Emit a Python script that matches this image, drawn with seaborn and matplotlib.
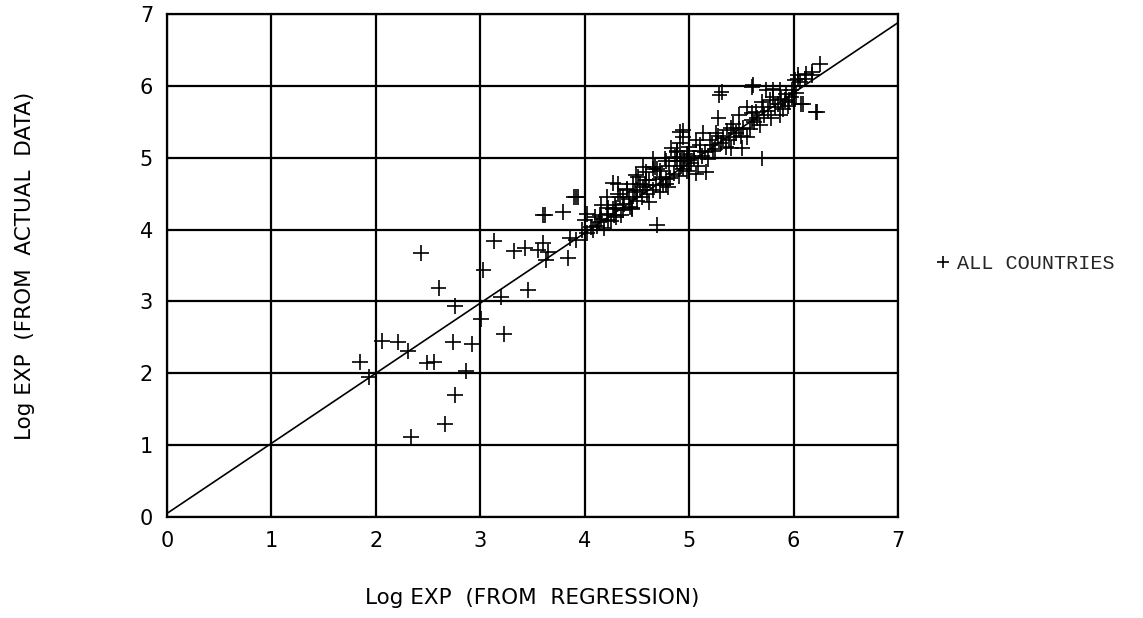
import numpy as np
import pandas as pd
import matplotlib
matplotlib.use("Agg")
import matplotlib.pyplot as plt
import seaborn as sns

# ---- data ----
# scattered low-range countries
low_x = [2.43, 2.60, 2.76, 3.60, 3.79, 3.92, 3.13, 3.32, 3.43, 3.55, 3.60, 3.65, 3.63,
         3.84, 3.86, 3.92, 3.03, 3.20, 3.46, 3.01, 3.23, 2.74, 2.92, 2.06, 2.21, 2.31,
         2.49, 2.56, 1.85, 1.93, 2.86, 2.76, 2.66, 2.34, 3.62, 3.94, 3.90]
low_y = [3.68, 3.19, 2.94, 4.20, 4.25, 4.45, 3.84, 3.70, 3.74, 3.71, 3.81, 3.69, 3.58,
         3.60, 3.88, 3.85, 3.44, 3.06, 3.16, 2.76, 2.55, 2.43, 2.41, 2.45, 2.43, 2.31,
         2.15, 2.16, 2.16, 1.95, 2.03, 1.70, 1.30, 1.12, 4.20, 4.45, 4.45]

# dense band of countries
band_x = [6.25, 6.12, 6.18, 6.04, 6.01, 6.06, 5.61, 5.29, 5.74, 5.80, 5.87, 5.93, 5.98,
          5.77, 5.88, 5.96, 6.09, 6.22, 5.87, 5.71, 5.64, 5.55, 5.48, 5.60, 5.42, 5.28,
          5.36, 5.48, 5.55, 5.43, 5.26, 5.20, 5.13, 5.07, 5.00, 4.91, 5.10, 5.23, 5.51,
          5.40, 5.70, 5.16, 4.99, 4.88, 4.83, 4.91, 4.81, 4.94, 4.77, 4.65, 4.69, 4.59,
          4.73, 4.51, 4.62, 4.46, 4.56, 4.40, 4.27, 4.32, 4.21, 4.80, 4.72, 5.07,
          4.00, 3.97, 4.06, 4.14, 4.21, 4.27, 4.16, 4.32, 4.34, 4.40, 4.46, 4.43, 4.53,
          4.59, 4.49, 4.65, 4.72, 4.78, 4.86, 4.91, 4.94, 5.00, 4.65, 4.22, 4.10, 4.30,
          4.37, 4.69,
          4.02, 4.08, 4.12, 4.18, 4.25, 4.28, 4.35, 4.38, 4.45, 4.50, 4.55, 4.60, 4.62,
          4.68, 4.75, 4.78, 4.82, 4.85, 4.90, 4.92, 4.95, 4.98, 5.02, 5.05, 5.08, 5.12,
          5.15, 5.18, 5.22, 5.25, 5.30, 5.32, 5.35, 5.38, 5.45, 5.50, 5.52, 5.58, 5.62,
          5.65, 5.68, 5.72, 5.75, 5.78, 5.82, 5.85, 5.90, 5.92, 5.95, 5.98, 6.02, 5.80,
          5.70, 5.60, 5.40, 5.28, 5.10, 4.98, 4.88, 4.72, 4.58, 4.48, 4.42, 4.30, 4.22,
          4.15, 5.31, 5.60, 6.07, 6.21, 6.18, 6.11, 6.04, 4.02, 4.16, 4.29, 4.37, 4.45,
          4.50, 4.56, 4.67, 4.78, 4.88, 4.94, 5.00]
band_y = [6.31, 6.17, 6.19, 6.15, 6.08, 6.06, 6.01, 5.87, 5.94, 5.95, 5.94, 5.89, 5.94,
          5.80, 5.82, 5.78, 5.75, 5.64, 5.59, 5.70, 5.64, 5.70, 5.59, 5.52, 5.47, 5.55,
          5.38, 5.40, 5.29, 5.29, 5.34, 5.24, 5.34, 5.24, 5.15, 5.36, 5.10, 5.10, 5.13,
          5.13, 4.99, 4.80, 5.03, 5.08, 5.13, 4.96, 4.89, 4.85, 4.99, 4.99, 4.85, 4.80,
          4.73, 4.73, 4.69, 4.64, 4.59, 4.57, 4.65, 4.50, 4.45, 4.59, 4.53, 4.78,
          4.13, 3.99, 4.04, 4.11, 4.22, 4.29, 4.34, 4.64, 4.46, 4.55, 4.46, 4.32, 4.64,
          4.69, 4.76, 4.55, 4.82, 4.64, 5.01, 5.20, 5.38, 5.10, 4.85, 4.13, 4.18, 4.18,
          4.27, 4.06,
          3.95, 4.00, 4.05, 4.02, 4.12, 4.20, 4.20, 4.35, 4.30, 4.40, 4.45, 4.50, 4.38,
          4.62, 4.62, 4.70, 4.72, 4.78, 4.75, 4.88, 4.95, 4.82, 4.92, 5.00, 4.88, 5.02,
          5.08, 4.98, 5.18, 5.12, 5.20, 5.28, 5.15, 5.25, 5.35, 5.30, 5.42, 5.40, 5.50,
          5.55, 5.45, 5.60, 5.65, 5.55, 5.70, 5.75, 5.68, 5.80, 5.72, 5.85, 5.90, 5.85,
          5.78, 5.62, 5.42, 5.30, 5.18, 5.05, 4.95, 4.70, 4.62, 4.52, 4.42, 4.30, 4.30,
          4.20, 5.91, 5.98, 5.75, 5.64, 6.15, 6.10, 6.09, 4.22, 4.15, 4.34, 4.45, 4.29,
          4.55, 4.87, 4.87, 4.96, 5.10, 5.29, 4.97]

# regression line endpoints
line_x = [0.0, 7.0]
line_y = [0.05, 6.88]

ticks = [0, 1, 2, 3, 4, 5, 6, 7]
tick_labels = ["0", "1", "2", "3", "4", "5", "6", "7"]

df = pd.DataFrame({"pred": low_x + band_x, "actual": low_y + band_y})
df["group"] = "ALL COUNTRIES"
line_df = pd.DataFrame({"x": line_x, "y": line_y})

sns.set_theme(style="white")
plt.rcParams["font.family"] = ["DejaVu Sans"]

fig = plt.figure(figsize=(11.43, 6.18), dpi=100)
ax = fig.add_axes([0.1461, 0.1634, 0.6396, 0.8139])

for t in ticks:
    ax.axhline(t, color="black", lw=1.6, zorder=1)
    ax.axvline(t, color="black", lw=1.6, zorder=1)

sns.lineplot(data=line_df, x="x", y="y", color="black", lw=1.2, ax=ax, zorder=2)
sns.scatterplot(data=df, x="pred", y="actual", hue="group", palette=["black"],
                marker="+", s=130, linewidth=1.2, ax=ax, zorder=3, legend=True)

ax.set_xlim(0, 7)
ax.set_ylim(0, 7)
ax.set_xticks(ticks)
ax.set_yticks(ticks)
ax.set_xticklabels(tick_labels, fontsize=15, color="black")
ax.set_yticklabels(tick_labels, fontsize=15, color="black")
ax.tick_params(axis="both", length=0, pad=10)
for sp in ax.spines.values():
    sp.set_color("black")
    sp.set_linewidth(1.6)

ax.set_xlabel("Log EXP  (FROM  REGRESSION)", fontsize=15.5, color="black")
ax.set_ylabel("Log EXP  (FROM  ACTUAL  DATA)", fontsize=15.5, color="black")
ax.xaxis.set_label_coords(0.5, -0.142)
ax.yaxis.set_label_coords(-0.181, 0.5)

leg = ax.legend(loc="center left", bbox_to_anchor=(0.8, 0.574),
                bbox_transform=fig.transFigure, frameon=False,
                prop={"family": "Liberation Mono", "size": 14.5},
                handletextpad=0.2, handlelength=1.0, markerscale=0.8)

fig.savefig("out.png", dpi=100, facecolor="white")
